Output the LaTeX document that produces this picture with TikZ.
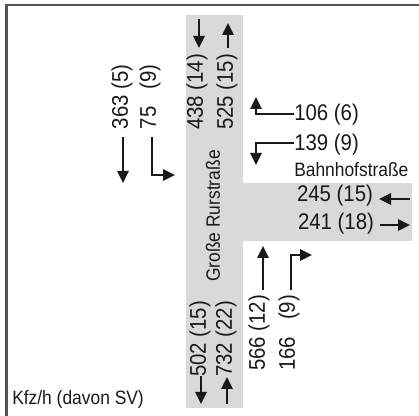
\documentclass[tikz,border=0pt]{standalone}
\usepackage{fontspec}
\setmainfont{Liberation Sans}[FakeStretch=0.9]
\usetikzlibrary{arrows.meta}
\definecolor{roadgray}{RGB}{217,217,217}
\definecolor{framegray}{RGB}{85,85,85}
\definecolor{inkblack}{RGB}{25,25,25}
\newlength\pairw
% number left, count in brackets right, as wide as the reference text
\newcommand{\flowpair}[3]{\settowidth\pairw{#1}\makebox[\pairw][s]{#2\hfill#3}}

\begin{document}
\begin{tikzpicture}[
  x=0.75pt, y=-0.75pt,
  font=\fontsize{17}{19}\selectfont,
  text=inkblack,
  flow/.style={inner sep=0pt, text=inkblack},
  vflow/.style={flow, rotate=90},
  street/.style={inner sep=0pt, font=\fontsize{14.5}{16}\selectfont},
  arr/.style={-{Triangle[length=9pt,width=8.5pt]}, line width=1.5pt, draw=inkblack},
  road/.style={fill=roadgray, draw=none}
]
\useasboundingbox (0,0) rectangle (419,416);

% frame, only left and top edges
\draw[framegray, line width=2.2pt] (6.5,416) -- (6.5,5) -- (419,5);

% roads
\fill[road] (186,15) rectangle (243,408);
\fill[road] (243,183) rectangle (412,241);

% street names
\node[street, rotate=90] (rurstr) at (213,216) {Große Rurstraße};
\node[street, anchor=west] (bahnstr) at (294,170) {Bahnhofstraße};
\node[street, anchor=west] (unit) at (12,400) {Kfz/h (davon SV)};

% north approach
\node[vflow] (n438) at (197,92) {438 (14)};
\node[vflow] (n525) at (227,92) {525 (15)};
\coordinate (n438a) at (199,19);
\coordinate (n438b) at (199,48);
\coordinate (n525a) at (228,48);
\coordinate (n525b) at (228,23);
\draw[arr] (n438a) -- (n438b);
\draw[arr] (n525a) -- (n525b);

% south approach
\node[vflow] (s502) at (200,339) {502 (15)};
\node[vflow] (s732) at (226,339) {732 (22)};
\coordinate (s502a) at (201,376);
\coordinate (s502b) at (201,404);
\coordinate (s732a) at (227,404);
\coordinate (s732b) at (227,377);
\draw[arr] (s502a) -- (s502b);
\draw[arr] (s732a) -- (s732b);

% west side, entering southbound
\node[vflow] (w363) at (122,97) {363 (5)};
\node[vflow] (w75) at (150,97) {\flowpair{363 (5)}{75}{(9)}};
\coordinate (w363a) at (123,137);
\coordinate (w363b) at (123,183);
\coordinate (w75a) at (152,137);
\coordinate (w75b) at (175,175);
\draw[arr] (w363a) -- (w363b);
\draw[arr] (w75a) |- (w75b);

% east side, Bahnhofstraße turning
\node[flow, anchor=west] (e106) at (294,115) {106 (6)};
\node[flow, anchor=west] (e139) at (294,145) {139 (9)};
\coordinate (e106b) at (256,97);
\coordinate (e139b) at (256,165);
\draw[arr] ([yshift=1pt]e106.west) -| (e106b);
\draw[arr] ([yshift=1.5pt]e139.west) -| (e139b);

% Bahnhofstraße lanes
\node[flow] (b245) at (335,196) {245 (15)};
\node[flow] (b241) at (336,224) {241 (18)};
\coordinate (b245a) at (410,199);
\coordinate (b245b) at (379,199);
\coordinate (b241a) at (380,225);
\coordinate (b241b) at (410,225);
\draw[arr] (b245a) -- (b245b);
\draw[arr] (b241a) -- (b241b);

% south-east, northbound
\node[vflow] (se566) at (259,333) {566 (12)};
\node[vflow] (se166) at (289,333) {\flowpair{566 (12)}{166}{(9)}};
\coordinate (se566a) at (263,290);
\coordinate (se566b) at (263,246);
\coordinate (se166a) at (291,290);
\coordinate (se166b) at (312,255);
\draw[arr] (se566a) -- (se566b);
\draw[arr] (se166a) |- (se166b);

\end{tikzpicture}
\end{document}
